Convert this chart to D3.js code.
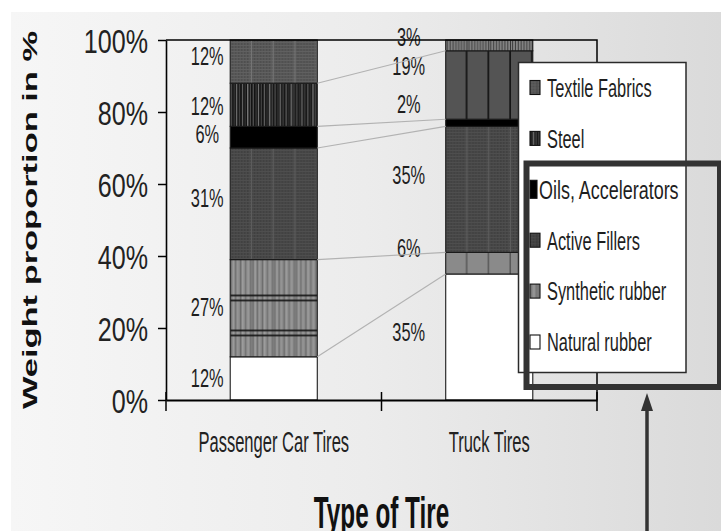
<!DOCTYPE html>
<html>
<head>
<meta charset="utf-8">
<script src="https://cdn.jsdelivr.net/npm/d3@7"></script>
<style>
  html, body { margin: 0; padding: 0; background: #fff; }
  svg { display: block; }
  text { font-family: "Liberation Sans", Arial, Helvetica, sans-serif; }
</style>
</head>
<body>
<svg id="chart" width="721" height="531"></svg>
<script>
// ---- data -------------------------------------------------------------
const categories = ["Passenger Car Tires", "Truck Tires"];
// stacking order, bottom to top
const components = ["Natural rubber", "Synthetic rubber", "Active Fillers",
                    "Oils, Accelerators", "Steel", "Textile Fabrics"];
const passengerShares = [12, 27, 31, 6, 12, 12];
const truckShares     = [35, 6, 35, 2, 19, 3];
const yTickValues = [0, 20, 40, 60, 80, 100];
const yTickLabels = ["0%", "20%", "40%", "60%", "80%", "100%"];
const legendLabels = ["Textile Fabrics", "Steel", "Oils, Accelerators",
                      "Active Fillers", "Synthetic rubber", "Natural rubber"];
const xTitle = "Type of Tire";
const yTitle = "Weight proportion in %";

// ---- layout -----------------------------------------------------------
const W = 721, H = 531;
const plot = { left: 166, right: 597, top: 40, bottom: 400 };
// vertical nudges (px) for the value labels of each bar, bottom to top
const labelNudge = [[-1, -2, -6, -4, 1, -6], [-5, -16, -15, -19, -19, -9]];
// horizontal distance from the bar's left edge to the label centre
const labelGap = [23, 37];

const svg = d3.select("#chart");
const defs = svg.append("defs");

const shares = [passengerShares, truckShares];
const table = categories.map((c, i) => {
  const row = { category: c };
  components.forEach((k, j) => { row[k] = shares[i][j]; });
  return row;
});
const series = d3.stack().keys(components)(table);

const x = d3.scaleBand().domain(categories)
  .range([plot.left, plot.right]).paddingInner(0.596).paddingOuter(0.298);
const y = d3.scaleLinear().domain([0, 100]).range([plot.bottom, plot.top]);
const bw = x.bandwidth();
const cw = bw / 4;

// squeeze/stretch a text to a share of its natural width
function fit(sel, factor) {
  sel.each(function (d) {
    const f = typeof factor === "function" ? factor(d) : factor;
    const n = this.getComputedTextLength();
    d3.select(this).attr("textLength", n * f).attr("lengthAdjust", "spacingAndGlyphs");
  });
  return sel;
}

// ---- background -------------------------------------------------------
const bg = defs.append("linearGradient").attr("id", "bg")
  .attr("x1", 0).attr("x2", 1).attr("y1", 0).attr("y2", 0);
bg.append("stop").attr("offset", 0).attr("stop-color", "#f6f6f6");
bg.append("stop").attr("offset", 0.5).attr("stop-color", "#ececec");
bg.append("stop").attr("offset", 1).attr("stop-color", "#dadada");
svg.append("rect").attr("width", W).attr("height", H).attr("fill", "#fff");
svg.append("rect").attr("x", 11).attr("y", 12).attr("width", W - 11).attr("height", H - 12)
  .attr("fill", "url(#bg)");

// ---- fill patterns ----------------------------------------------------
function pattern(id, x0, y0, w, h) {
  return defs.append("pattern").attr("id", id).attr("patternUnits", "userSpaceOnUse")
    .attr("x", x0).attr("y", y0).attr("width", w).attr("height", h);
}
function box(p, xx, yy, w, h, c) {
  p.append("rect").attr("x", xx).attr("y", yy).attr("width", w).attr("height", h).attr("fill", c);
}
function gridCell(id, x0, base, line, edge) {
  const p = pattern(id, x0, 0, cw, 3);
  box(p, 0, 0, cw, 3, base);
  box(p, 0, 0, cw, 1, line);
  for (let xx = 0.5; xx < cw - 1; xx += 3) box(p, xx, 0, 1, 3, line);
  box(p, cw - 1.3, 0, 1.3, 3, edge);
}
function stripeCell(id, x0, y0, h, base, stripes) {
  const p = pattern(id, x0, y0, cw, h);
  box(p, 0, 0, cw, h, base);
  stripes.forEach(([f, c, w]) => box(p, f * cw, 0, w, h, c));
  return p;
}

const x0 = x(categories[0]), x1 = x(categories[1]);

const steelStripes = [
  [0.03, "#555", 1.2], [0.16, "#3a3a3a", 1.2], [0.27, "#777", 1.2], [0.40, "#444", 1.2],
  [0.54, "#666", 1.2], [0.66, "#333", 1.2], [0.78, "#8a8a8a", 1.2], [0.90, "#4a4a4a", 1.2]];
const synthStripes = [
  [0.02, "#6c6c6c", 1.2], [0.12, "#a4a4a4", 1], [0.22, "#707070", 1.2], [0.33, "#9c9c9c", 1],
  [0.45, "#6a6a6a", 1.2], [0.56, "#a8a8a8", 1], [0.68, "#747474", 1.2], [0.80, "#a0a0a0", 1],
  [0.92, "#6e6e6e", 1.2]];

// passenger car bar
gridCell("p-textile", x0, "#4e4e4e", "#606060", "#747474");
stripeCell("p-steel", x0, 0, 4, "#121212", steelStripes);
gridCell("p-active", x0, "#404040", "#4e4e4e", "#5c5c5c");
const ps = stripeCell("p-synth", x0, y(39) + 35, 100, "#8a8a8a", synthStripes);
box(ps, 0, 0, cw, 1.6, "#111"); box(ps, 0, 5, cw, 1.6, "#111");
box(ps, 0, 35, cw, 1.6, "#111"); box(ps, 0, 40, cw, 1.6, "#111");

// truck bar
stripeCell("t-textile", x1, 0, 4, "#858585", [
  [0.05, "#3c3c3c", 1], [0.18, "#3c3c3c", 1], [0.31, "#3c3c3c", 1], [0.44, "#3c3c3c", 1],
  [0.57, "#3c3c3c", 1], [0.70, "#3c3c3c", 1], [0.83, "#3c3c3c", 1], [0.96, "#2a2a2a", 1]]);
stripeCell("t-steel", x1, 0, 4, "#545454", [[0.92, "#151515", 1.8]]);
gridCell("t-active", x1, "#404040", "#4e4e4e", "#5c5c5c");
stripeCell("t-synth", x1, 0, 4, "#8a8a8a", [[0.93, "#575757", 1.5]]);

// legend swatches
const lx = 530;
gridCell("l-textile", lx, "#4e4e4e", "#606060", "#4e4e4e");
stripeCell("l-steel", lx, 0, 4, "#121212", steelStripes);
gridCell("l-active", lx, "#3c3c3c", "#4a4a4a", "#3c3c3c");
stripeCell("l-synth", lx, 0, 4, "#8a8a8a", synthStripes);

const keys = ["natural", "synth", "active", "oils", "steel", "textile"];
// prefix ("p", "t" or "l"), component index -> fill
function fillFor(prefix, j) {
  const key = keys[j];
  if (key === "natural") return "#ffffff";
  if (key === "oils") return "#000000";
  return `url(#${prefix}-${key})`;
}

// ---- stacked bars -----------------------------------------------------
const layers = svg.append("g").selectAll("g").data(series).join("g");
layers.selectAll("rect")
  .data((s, j) => s.map((d, i) => ({ d, i, j })))
  .join("rect")
  .attr("x", o => x(o.d.data.category))
  .attr("y", o => y(o.d[1]))
  .attr("width", bw)
  .attr("height", o => y(o.d[0]) - y(o.d[1]))
  .attr("fill", o => fillFor(o.i === 0 ? "p" : "t", o.j))
  .attr("stroke", "#1a1a1a")
  .attr("stroke-width", 1.1);

// ---- value labels -----------------------------------------------------
const labels = [];
series.forEach((s, j) => s.forEach((d, i) => labels.push({ d, i, j })));
const labelSel = svg.append("g").selectAll("text").data(labels).join("text")
  .attr("x", o => x(o.d.data.category) - labelGap[o.i])
  .attr("y", o => (y(o.d[0]) + y(o.d[1])) / 2 + labelNudge[o.i][o.j])
  .attr("dy", "0.36em")
  .attr("text-anchor", "middle")
  .attr("font-size", 26)
  .attr("fill", "#1e1e1e")
  .text(o => `${o.d[1] - o.d[0]}%`);
fit(labelSel, 0.63);

// ---- connector lines between matching boundaries -----------------------
svg.append("g").selectAll("line").data(series.slice(0, series.length - 1)).join("line")
  .attr("x1", x0 + bw).attr("y1", s => y(s[0][1]))
  .attr("x2", x1).attr("y2", s => y(s[1][1]))
  .attr("stroke", "#b2b2b2").attr("stroke-width", 1.1);

// ---- axes -------------------------------------------------------------
const yAxis = svg.append("g").attr("transform", `translate(${plot.left},0)`)
  .call(d3.axisLeft(y).tickValues(yTickValues)
    .tickFormat((d, i) => yTickLabels[i]).tickSize(8).tickSizeOuter(0));
yAxis.select(".domain").attr("stroke", "#000").attr("stroke-width", 1.6);
yAxis.selectAll(".tick line").attr("stroke", "#000").attr("stroke-width", 1.5);
const yText = yAxis.selectAll(".tick text")
  .attr("x", -18).attr("dy", "0.38em")
  .attr("font-size", 33).attr("font-family", "Liberation Sans, Arial, sans-serif")
  .attr("fill", "#222");
fit(yText, 0.76);

const xAxis = svg.append("g").attr("transform", `translate(0,${plot.bottom})`)
  .call(d3.axisBottom(x).tickSize(0).tickSizeOuter(0));
xAxis.select(".domain").attr("stroke", "#000").attr("stroke-width", 1.8);
const xText = xAxis.selectAll(".tick text")
  .attr("y", 52).attr("dy", 0)
  .attr("font-size", 29).attr("font-family", "Liberation Sans, Arial, sans-serif")
  .attr("fill", "#222");
fit(xText, 0.57);

// category separators on the x axis
const xSeps = [x.range()[0], (x0 + bw + x1) / 2, x.range()[1]];
svg.append("g").selectAll("line").data(xSeps).join("line")
  .attr("x1", d => d).attr("x2", d => d)
  .attr("y1", plot.bottom - 8).attr("y2", plot.bottom + 11)
  .attr("stroke", "#000").attr("stroke-width", 1.5);

// plot frame: top and right edges
svg.append("path")
  .attr("d", `M${plot.left},${plot.top}H${plot.right}V${plot.bottom}`)
  .attr("fill", "none").attr("stroke", "#000").attr("stroke-width", 1.5);

// ---- titles -----------------------------------------------------------
fit(svg.append("text")
  .attr("x", (plot.left + plot.right) / 2).attr("y", 528)
  .attr("text-anchor", "middle").attr("font-size", 45).attr("font-weight", "bold")
  .attr("fill", "#111").text(xTitle), 0.54);

fit(svg.append("text")
  .attr("transform", "translate(37,220) rotate(-90)")
  .attr("text-anchor", "middle").attr("font-size", 21).attr("font-weight", "bold")
  .attr("fill", "#111").text(yTitle), 1.64);

// ---- legend -----------------------------------------------------------
svg.append("rect").attr("x", 518.5).attr("y", 62.5).attr("width", 167.5).attr("height", 310)
  .attr("fill", "#fff").attr("stroke", "#2a2a2a").attr("stroke-width", 1.5);

const isOils = d => d === "Oils, Accelerators";
const rows = svg.append("g").selectAll("g").data(legendLabels).join("g")
  .attr("transform", (d, i) => `translate(${lx},${87.5 + i * 50.9})`);
rows.append("rect")
  .attr("x", 0)
  .attr("y", d => isOils(d) ? -9 : -7)
  .attr("width", d => isOils(d) ? 7 : 10)
  .attr("height", d => isOils(d) ? 18 : 14)
  .attr("fill", d => fillFor("l", components.indexOf(d)))
  .attr("stroke", "#111").attr("stroke-width", 1.1);
fit(rows.append("text")
  .attr("x", d => isOils(d) ? 9 : 17)
  .attr("dy", "0.36em")
  .attr("font-size", 26).attr("fill", "#1e1e1e")
  .text(d => d), d => isOils(d) ? 0.69 : 0.63);

// highlight frame around the lower legend entries, with pointer arrow
svg.append("rect").attr("x", 526.5).attr("y", 163.5).attr("width", 193.5).attr("height", 223.5)
  .attr("fill", "none").attr("stroke", "#333").attr("stroke-width", 6);
svg.append("line").attr("x1", 647).attr("x2", 647).attr("y1", 531).attr("y2", 408)
  .attr("stroke", "#333").attr("stroke-width", 3.5);
svg.append("path").attr("d", "M641,411L653,411L647,393Z").attr("fill", "#333");
</script>
</body>
</html>
